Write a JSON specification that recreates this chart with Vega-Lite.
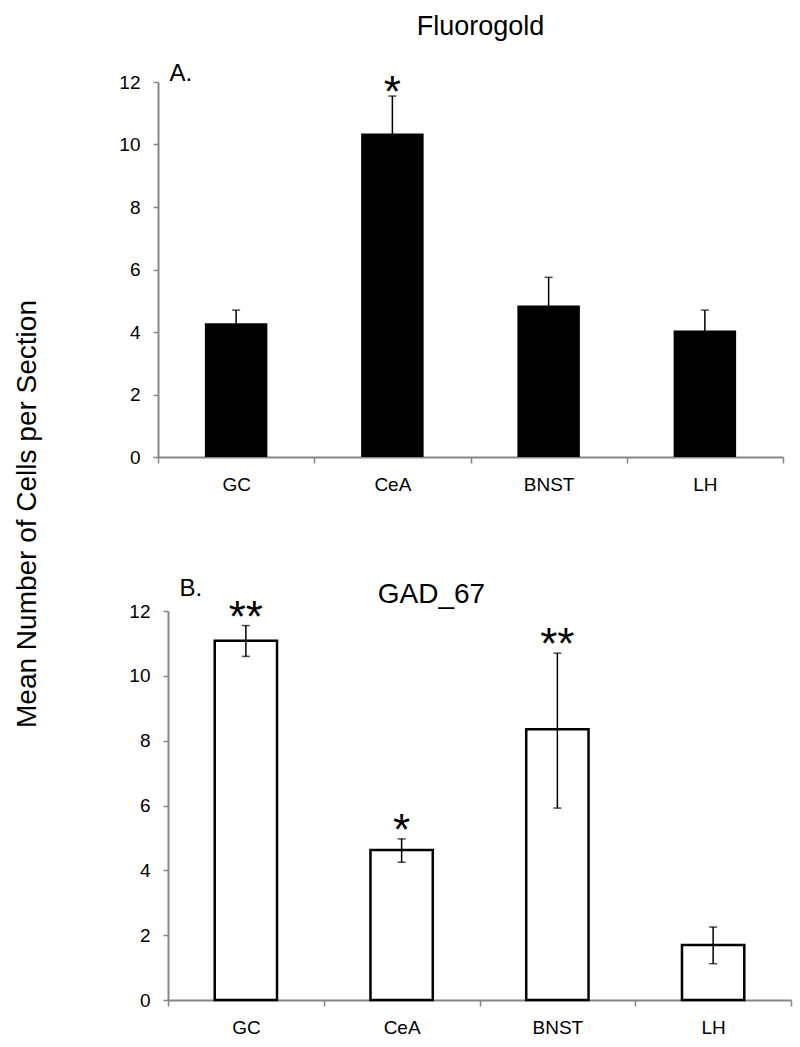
{
  "$schema": "https://vega.github.io/schema/vega-lite/v6.json",
  "padding": {"left": 13, "top": 13, "right": 5, "bottom": 5},
  "background": "white",
  "config": {
    "font": "Liberation Sans",
    "view": {"stroke": null},
    "axis": {
      "domainColor": "#868686",
      "domainWidth": 2,
      "tickColor": "#868686",
      "tickWidth": 1.5,
      "labelColor": "black",
      "labelFontSize": 19,
      "labelFont": "Liberation Sans",
      "grid": false,
      "titleColor": "black",
      "titleFontWeight": "normal"
    }
  },
  "datasets": {
    "fluorogold": [
      {"region": "GC", "mean": 4.28, "lo": 3.86, "hi": 4.7, "star": ""},
      {"region": "CeA", "mean": 10.35, "lo": 9.15, "hi": 11.55, "star": "*"},
      {"region": "BNST", "mean": 4.85, "lo": 3.95, "hi": 5.75, "star": ""},
      {"region": "LH", "mean": 4.05, "lo": 3.4, "hi": 4.7, "star": ""}
    ],
    "gad67": [
      {"region": "GC", "mean": 11.08, "lo": 10.6, "hi": 11.55, "star": "**"},
      {"region": "CeA", "mean": 4.63, "lo": 4.25, "hi": 4.97, "star": "*"},
      {"region": "BNST", "mean": 8.35, "lo": 5.92, "hi": 10.7, "star": "**"},
      {"region": "LH", "mean": 1.7, "lo": 1.12, "hi": 2.25, "star": ""}
    ]
  },
  "title": {
    "text": "Mean Number of Cells per Section",
    "orient": "left",
    "anchor": "middle",
    "fontSize": 28,
    "fontWeight": "normal",
    "color": "black",
    "offset": 77,
    "dx": 11
  },
  "spacing": 82,
  "vconcat": [
    {
      "width": 625,
      "height": 375,
      "title": {"text": "Fluorogold", "fontSize": 27, "fontWeight": "normal", "color": "black", "anchor": "middle", "frame": "group", "dx": 10, "offset": 20},
      "data": {"name": "fluorogold"},
      "encoding": {
        "x": {
          "field": "region", "type": "nominal", "sort": null, "title": null,
          "scale": {"paddingInner": 0, "paddingOuter": 0},
          "axis": {"labelAngle": 0, "labelPadding": 12, "tickSize": 6, "tickBand": "extent"}
        }
      },
      "layer": [
        {
          "mark": {"type": "bar", "color": "black", "width": {"band": 0.4}},
          "encoding": {
            "y": {"field": "mean", "type": "quantitative", "title": "A.",
                  "scale": {"domain": [0, 12], "nice": false},
                  "axis": {"values": [0,1,2,3,4,5,6,7,8,9,10,11,12], "labelExpr": "datum.value % 2 === 0 ? datum.label : ''",
                           "labelOverlap": false, "tickSize": 5, "labelPadding": 13,
                           "titleAngle": 0, "titleX": 11, "titleY": -2, "titleAlign": "left", "titleBaseline": "alphabetic", "titleFontSize": 24}}
          }
        },
        {
          "mark": {"type": "errorbar", "color": "black", "rule": {"strokeWidth": 1.5}, "ticks": {"size": 8, "thickness": 1.5}},
          "encoding": {
            "y": {"field": "lo", "type": "quantitative", "title": "A."},
            "y2": {"field": "hi"}
          }
        },
        {
          "transform": [{"filter": "datum.star != ''"}],
          "mark": {"type": "text", "fontSize": 44, "baseline": "alphabetic", "dy": 11, "color": "black"},
          "encoding": {
            "y": {"field": "hi", "type": "quantitative", "title": "A."},
            "text": {"field": "star"}
          }
        }
      ]
    },
    {
      "width": 633,
      "height": 389,
      "title": {"text": "GAD_67", "fontSize": 28, "fontWeight": "normal", "color": "black", "anchor": "middle", "frame": "group", "dx": -43, "offset": -33},
      "data": {"name": "gad67"},
      "encoding": {
        "x": {
          "field": "region", "type": "nominal", "sort": null, "title": null,
          "scale": {"paddingInner": 0, "paddingOuter": 0, "range": [10, 633]},
          "axis": {"labelAngle": 0, "labelPadding": 12, "tickSize": 6, "tickBand": "extent"}
        }
      },
      "layer": [
        {
          "mark": {"type": "bar", "fill": "white", "stroke": "black", "strokeWidth": 2.5, "width": {"band": 0.4}},
          "encoding": {
            "y": {"field": "mean", "type": "quantitative", "title": "B.",
                  "scale": {"domain": [0, 12], "nice": false},
                  "axis": {"values": [0,1,2,3,4,5,6,7,8,9,10,11,12], "labelExpr": "datum.value % 2 === 0 ? datum.label : ''",
                           "labelOverlap": false, "tickSize": 5, "labelPadding": 13, "offset": -10,
                           "titleAngle": 0, "titleX": 11, "titleY": -16, "titleAlign": "left", "titleBaseline": "alphabetic", "titleFontSize": 24}}
          }
        },
        {
          "mark": {"type": "errorbar", "color": "black", "rule": {"strokeWidth": 1.5}, "ticks": {"size": 8, "thickness": 1.5}},
          "encoding": {
            "y": {"field": "lo", "type": "quantitative", "title": "B."},
            "y2": {"field": "hi"}
          }
        },
        {
          "transform": [{"filter": "datum.star != ''"}],
          "mark": {"type": "text", "fontSize": 44, "baseline": "alphabetic", "dy": 6, "color": "black"},
          "encoding": {
            "y": {"field": "hi", "type": "quantitative", "title": "B."},
            "text": {"field": "star"}
          }
        }
      ]
    }
  ]
}
